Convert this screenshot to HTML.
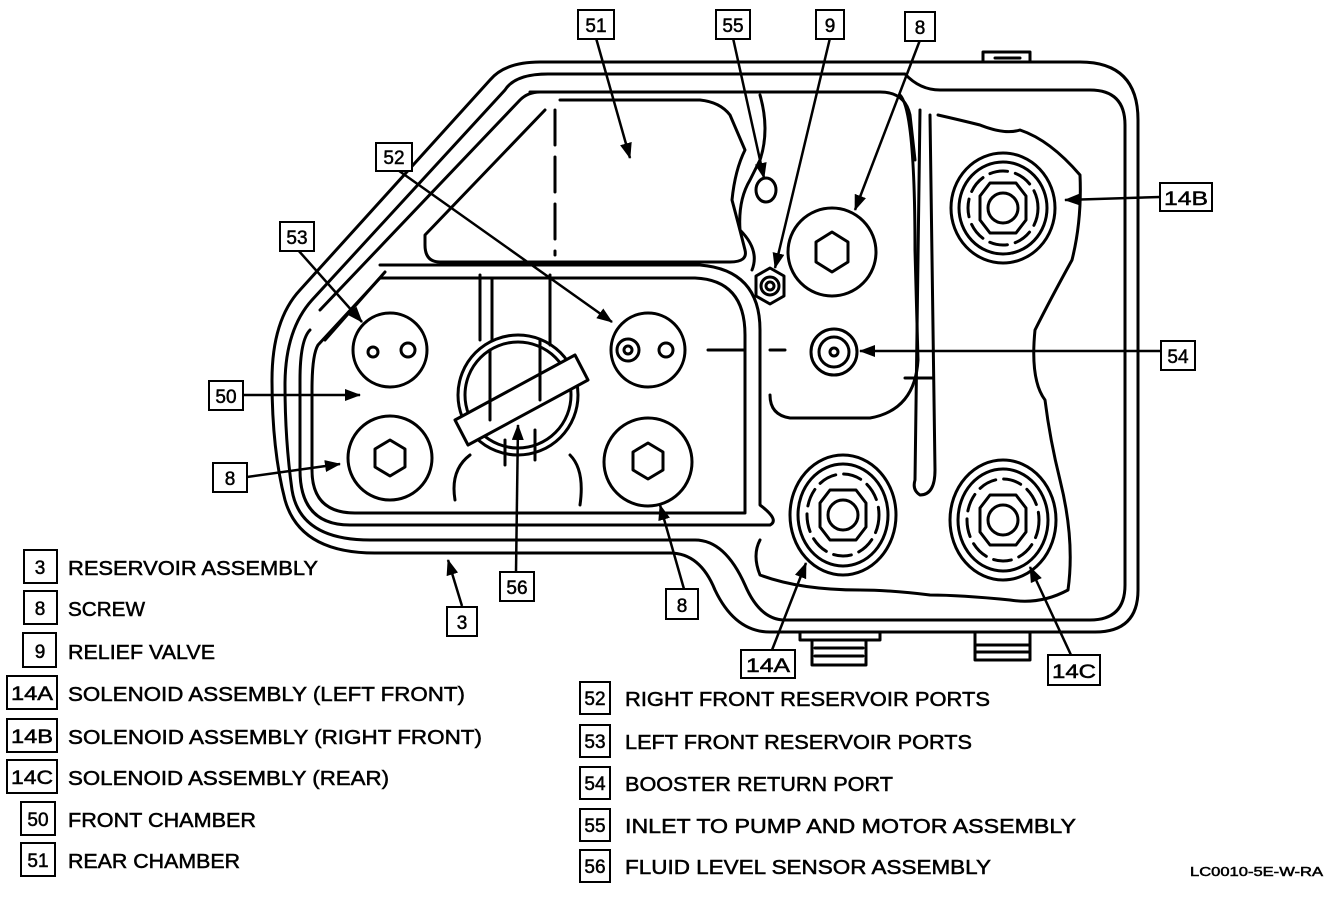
<!DOCTYPE html>
<html><head><meta charset="utf-8"><style>
html,body{margin:0;padding:0;background:#fff}
svg{display:block}
text{font-family:"Liberation Sans",sans-serif;fill:#000;stroke:#000;stroke-width:0.5}
.l{font-size:20px}
.b{font-size:19px;text-anchor:middle}
</style></head><body>
<svg width="1344" height="904" viewBox="0 0 1344 904" xmlns="http://www.w3.org/2000/svg">
<defs>
<marker id="ah" viewBox="0 0 16 12" markerWidth="16" markerHeight="12" refX="15" refY="6" orient="auto" markerUnits="userSpaceOnUse">
<path d="M0,0 L16,6 L0,12 z" fill="#000"/>
</marker>
</defs>
<g fill="none" stroke="#000" stroke-width="3" stroke-linejoin="round" stroke-linecap="round">
<path d="M540,62 L1080,62 Q1138,62 1138,120 L1138,590 Q1138,632 1095,632 L770,632 Q735,632 715,590 Q700,553 670,553 L375,553 Q300,553 285,500 Q272,450 272,380 Q272,320 300,290 L490,80 Q505,62 540,62 Z"/>
<path d="M548,74 L905,74 Q920,90 940,90 L1090,90 Q1125,90 1125,125 L1125,585 Q1125,620 1090,620 L785,620 Q760,620 745,585 Q725,540 695,540 L370,540 Q300,540 292,490 Q285,440 285,385 Q285,330 312,300 L505,90 Q515,74 548,74 Z"/>
<path d="M530,92 L880,92 Q905,92 910,115 L915,160"/>
<path d="M320,310 L520,100 Q528,92 540,92"/>
<path d="M310,330 Q300,340 300,380 L300,470 Q300,525 350,525 L770,525 Q780,520 760,505 L760,330 Q760,270 700,265 L380,265"/>
<path d="M318,345 Q312,355 312,390 L312,470 Q312,513 355,513 L745,513 L745,335 Q745,280 695,278 L380,278 L318,345"/>
<path d="M325,340 L385,272"/>
<path d="M560,100 L700,100 Q720,102 730,115 L745,150 Q735,170 732,200 Q740,230 745,250 Q748,262 730,262 L440,262 Q425,262 425,245 L425,235 L545,110"/>
<path d="M555,110 L555,255" stroke-dasharray="35,12"/>
<path d="M760,95 Q770,130 760,160 L750,180 Q738,200 740,230 Q760,250 752,270"/>
<path d="M900,95 Q915,110 915,250 L918,360 Q915,410 870,418 L790,418 Q770,415 770,395"/>
<path d="M930,115 L935,470 Q935,495 920,495 Q912,490 915,480 L920,110"/>
<path d="M905,378 L932,378"/>
<path d="M938,115 Q960,120 980,125 Q1005,135 1020,130 Q1050,140 1080,175 Q1082,220 1072,260 Q1050,300 1035,330 Q1030,380 1045,400 Q1050,440 1060,480 Q1075,540 1068,590 Q1040,605 1010,600 Q960,595 930,595 Q890,590 860,590 Q800,590 760,575 Q752,555 760,540"/>
<circle cx="390" cy="350" r="37"/>
<circle cx="373" cy="352" r="5"/><circle cx="408" cy="350" r="7"/>
<circle cx="390" cy="458" r="42"/>
<path d="M390,440 L405,449 L405,467 L390,476 L375,467 L375,449 Z"/>
<circle cx="648" cy="350" r="37"/>
<circle cx="628" cy="350" r="11"/><circle cx="628" cy="350" r="4"/><circle cx="666" cy="350" r="7"/>
<circle cx="648" cy="462" r="44"/>
<path d="M648,443 L663,452 L663,470 L648,479 L633,470 L633,452 Z"/>
<circle cx="832" cy="252" r="44"/>
<path d="M832,232 L848,242 L848,262 L832,272 L816,262 L816,242 Z"/>
<circle cx="834" cy="352" r="23"/><circle cx="834" cy="352" r="15"/><circle cx="834" cy="352" r="4"/>
<ellipse cx="766" cy="190" rx="10" ry="12"/>
<path d="M770,268 L784,276 L784,296 L770,304 L756,296 L756,276 Z"/>
<circle cx="770" cy="286" r="9"/><circle cx="770" cy="286" r="4"/>
<path d="M708,350 L745,350 M770,350 L785,350"/>
<circle cx="518" cy="395" r="60"/>
<circle cx="518" cy="395" r="53"/>
<path d="M455,420 L575,355 L588,380 L468,445 Z" fill="#fff"/>
<path d="M490,350 L490,420 M540,340 L540,400 M505,440 L505,465 M535,430 L535,460"/>
<path d="M480,275 L480,340 M550,275 L550,345 M492,278 L492,340"/>
<path d="M470,455 Q450,470 455,500 M570,455 Q585,470 580,505"/>
<g>
<ellipse cx="1003" cy="208" rx="52" ry="55"/><ellipse cx="1003" cy="208" rx="44" ry="46"/>
<ellipse cx="1003" cy="208" rx="35" ry="37" stroke-dasharray="18,8"/>
<path d="M990,183 L1016,183 L1026,196 L1026,220 L1016,233 L990,233 L980,220 L980,196 Z"/>
<circle cx="1003" cy="208" r="15"/>
</g>
<g>
<ellipse cx="843" cy="515" rx="53" ry="60"/><ellipse cx="843" cy="515" rx="45" ry="51"/>
<ellipse cx="843" cy="515" rx="36" ry="41" stroke-dasharray="18,8"/>
<path d="M830,490 L856,490 L866,503 L866,527 L856,540 L830,540 L820,527 L820,503 Z"/>
<circle cx="843" cy="515" r="15"/>
</g>
<g>
<ellipse cx="1003" cy="520" rx="53" ry="60"/><ellipse cx="1003" cy="520" rx="45" ry="51"/>
<ellipse cx="1003" cy="520" rx="36" ry="41" stroke-dasharray="18,8"/>
<path d="M990,495 L1016,495 L1026,508 L1026,532 L1016,545 L990,545 L980,532 L980,508 Z"/>
<circle cx="1003" cy="520" r="15"/>
</g>
<path d="M800,632 L800,640 L880,640 L880,632 M812,640 L812,665 L866,665 L866,640 M815,648 L863,648 M815,656 L863,656"/>
<path d="M975,632 L975,660 L1030,660 L1030,632 M975,645 L1030,645 M975,652 L1030,652"/>
<path d="M983,62 L983,52 L1030,52 L1030,62 M995,58 L1020,58"/>
</g>
<g stroke="#000" stroke-width="2.5" fill="none" marker-end="url(#ah)">
<path d="M596,38 L630,158"/>
<path d="M733,38 L764,178"/>
<path d="M830,38 L775,268"/>
<path d="M920,40 L855,210"/>
<path d="M395,168 L612,322"/>
<path d="M298,250 L362,322"/>
<path d="M242,395 L360,395"/>
<path d="M247,477 L340,464"/>
<path d="M516,572 L518,425"/>
<path d="M462,606 L448,560"/>
<path d="M684,589 L660,505"/>
<path d="M1160,197 L1065,200"/>
<path d="M1161,351 L860,351"/>
<path d="M772,650 L806,563"/>
<path d="M1071,655 L1030,567"/>
</g>
<g stroke="#000" stroke-width="2" fill="#fff">
<rect x="578" y="10" width="36" height="29"/>
<rect x="716" y="10" width="34" height="29"/>
<rect x="816" y="10" width="28" height="29"/>
<rect x="905" y="12" width="30" height="29"/>
<rect x="376" y="143" width="36" height="28"/>
<rect x="280" y="222" width="34" height="29"/>
<rect x="209" y="381" width="34" height="29"/>
<rect x="213" y="463" width="34" height="29"/>
<rect x="500" y="572" width="34" height="29"/>
<rect x="447" y="607" width="30" height="29"/>
<rect x="666" y="589" width="32" height="30"/>
<rect x="741" y="650" width="54" height="28"/>
<rect x="1048" y="655" width="52" height="30"/>
<rect x="1160" y="183" width="52" height="28"/>
<rect x="1161" y="341" width="34" height="29"/>
<rect x="24" y="550" width="33" height="33"/>
<rect x="24" y="591" width="33" height="33"/>
<rect x="23" y="633" width="33" height="34"/>
<rect x="7" y="676" width="50" height="33"/>
<rect x="7" y="719" width="50" height="33"/>
<rect x="7" y="760" width="50" height="33"/>
<rect x="21" y="802" width="34" height="33"/>
<rect x="21" y="843" width="34" height="33"/>
<rect x="580" y="682" width="30" height="32"/>
<rect x="580" y="725" width="30" height="32"/>
<rect x="580" y="767" width="30" height="32"/>
<rect x="580" y="809" width="30" height="32"/>
<rect x="580" y="850" width="30" height="32"/>
</g>
<g>
<text class="b" x="596" y="32">51</text>
<text class="b" x="733" y="32">55</text>
<text class="b" x="830" y="32">9</text>
<text class="b" x="920" y="34">8</text>
<text class="b" x="394" y="164">52</text>
<text class="b" x="297" y="244">53</text>
<text class="b" x="226" y="403">50</text>
<text class="b" x="230" y="485">8</text>
<text class="b" x="517" y="594">56</text>
<text class="b" x="462" y="629">3</text>
<text class="b" x="682" y="612">8</text>
<text class="b" x="768" y="672" textLength="44" lengthAdjust="spacingAndGlyphs">14A</text>
<text class="b" x="1074" y="678" textLength="44" lengthAdjust="spacingAndGlyphs">14C</text>
<text class="b" x="1186" y="205" textLength="44" lengthAdjust="spacingAndGlyphs">14B</text>
<text class="b" x="1178" y="363">54</text>
<text class="b" x="40" y="574">3</text>
<text class="b" x="40" y="615">8</text>
<text class="b" x="40" y="658">9</text>
<text class="b" x="32" y="700" textLength="42" lengthAdjust="spacingAndGlyphs">14A</text>
<text class="b" x="32" y="743" textLength="42" lengthAdjust="spacingAndGlyphs">14B</text>
<text class="b" x="32" y="784" textLength="42" lengthAdjust="spacingAndGlyphs">14C</text>
<text class="b" x="38" y="826">50</text>
<text class="b" x="38" y="867">51</text>
<text class="b" x="595" y="705">52</text>
<text class="b" x="595" y="748">53</text>
<text class="b" x="595" y="790">54</text>
<text class="b" x="595" y="832">55</text>
<text class="b" x="595" y="873">56</text>
</g>
<g>
<text class="l" x="68" y="575" textLength="250" lengthAdjust="spacingAndGlyphs">RESERVOIR ASSEMBLY</text>
<text class="l" x="68" y="616" textLength="77" lengthAdjust="spacingAndGlyphs">SCREW</text>
<text class="l" x="68" y="659" textLength="147" lengthAdjust="spacingAndGlyphs">RELIEF VALVE</text>
<text class="l" x="68" y="701" textLength="397" lengthAdjust="spacingAndGlyphs">SOLENOID ASSEMBLY (LEFT FRONT)</text>
<text class="l" x="68" y="744" textLength="414" lengthAdjust="spacingAndGlyphs">SOLENOID ASSEMBLY (RIGHT FRONT)</text>
<text class="l" x="68" y="785" textLength="321" lengthAdjust="spacingAndGlyphs">SOLENOID ASSEMBLY (REAR)</text>
<text class="l" x="68" y="827" textLength="188" lengthAdjust="spacingAndGlyphs">FRONT CHAMBER</text>
<text class="l" x="68" y="868" textLength="172" lengthAdjust="spacingAndGlyphs">REAR CHAMBER</text>
<text class="l" x="625" y="706" textLength="365" lengthAdjust="spacingAndGlyphs">RIGHT FRONT RESERVOIR PORTS</text>
<text class="l" x="625" y="749" textLength="347" lengthAdjust="spacingAndGlyphs">LEFT FRONT RESERVOIR PORTS</text>
<text class="l" x="625" y="791" textLength="268" lengthAdjust="spacingAndGlyphs">BOOSTER RETURN PORT</text>
<text class="l" x="625" y="833" textLength="451" lengthAdjust="spacingAndGlyphs">INLET TO PUMP AND MOTOR ASSEMBLY</text>
<text class="l" x="625" y="874" textLength="366" lengthAdjust="spacingAndGlyphs">FLUID LEVEL SENSOR ASSEMBLY</text>
<text x="1190" y="876" font-size="13" textLength="133" lengthAdjust="spacingAndGlyphs">LC0010-5E-W-RA</text>
</g>
</svg>
</body></html>
